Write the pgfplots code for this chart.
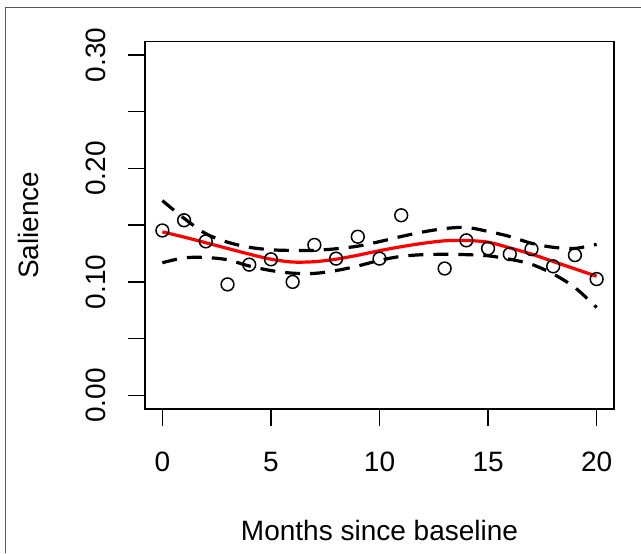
\documentclass[border=0pt]{standalone}
\usepackage{fontspec}
\setmainfont{Liberation Sans}
\usepackage{pgfplots}
\pgfplotsset{compat=1.18}

% observed values
\pgfplotstableread{
x y
0 0.1453
1 0.1543
2 0.1357
3 0.0978
4 0.1152
5 0.1199
6 0.1000
7 0.1326
8 0.1205
9 0.1398
10 0.1205
11 0.1587
13 0.1118
14 0.1366
15 0.1295
16 0.1245
17 0.1289
18 0.1137
19 0.1236
20 0.1025
}\obs

% smooth fit with upper and lower band
\pgfplotstableread{
x fit upper lower
0 0.1441 0.1716 0.1169
1 0.1395 0.1560 0.1212
2 0.1345 0.1425 0.1215
3 0.1295 0.1350 0.1195
4 0.1245 0.1305 0.1140
5 0.1200 0.1283 0.1100
6 0.1175 0.1277 0.1077
7 0.1178 0.1278 0.1075
8 0.1200 0.1292 0.1100
9 0.1235 0.1315 0.1140
10 0.1275 0.1355 0.1190
11 0.1310 0.1400 0.1225
12 0.1340 0.1440 0.1240
13 0.1362 0.1470 0.1243
14 0.1365 0.1480 0.1240
15 0.1350 0.1445 0.1230
16 0.1300 0.1400 0.1200
17 0.1245 0.1340 0.1155
18 0.1180 0.1305 0.1070
19 0.1115 0.1295 0.0950
20 0.1050 0.1331 0.0775
}\fit

\newcommand{\lbl}{\fontsize{14}{16}\selectfont}

\begin{document}
\begin{tikzpicture}
\path[use as bounding box] (0,0) rectangle (320.5pt,276.5pt);
\draw[gray!70!black, line width=0.5pt] (2.85pt,0) -- (2.85pt,272.85pt) -- (320.5pt,272.85pt);
\begin{axis}[
  at={(72.5pt,72pt)}, anchor=south west,
  scale only axis, width=234.5pt, height=183.85pt,
  xmin=-0.8, xmax=20.8, ymin=-0.012, ymax=0.312,
  axis line style={line width=0.7pt},
  xtick={0,5,10,15,20}, xticklabels={0,5,10,15,20},
  ytick={0,0.05,0.1,0.15,0.2,0.25,0.3},
  yticklabels={0.00,,0.10,,0.20,,0.30},
  tick align=outside, major tick length=8.5pt,
  tick style={black, line width=0.7pt},
  xtick pos=bottom, ytick pos=left,
  tick label style={font=\lbl},
  xticklabel style={anchor=base, yshift=-22.5pt},
  yticklabel style={rotate=90, anchor=base, yshift=11pt},
  xlabel={Months since baseline}, ylabel={Salience},
  every axis x label/.style={at={([yshift=-65.5pt]axis description cs:0.5,0)}, anchor=base, font=\lbl},
  every axis y label/.style={at={([xshift=-53pt]axis description cs:0,0.5)}, rotate=90, anchor=base, font=\lbl},
]
\addplot[black, dash pattern=on 7.5pt off 5pt, line width=1.6pt, smooth] table[x=x, y=upper] {\fit};
\addplot[black, dash pattern=on 7.5pt off 5pt, line width=1.6pt, smooth] table[x=x, y=lower] {\fit};
\addplot[red, line width=1.6pt, smooth] table[x=x, y=fit] {\fit};
\addplot[only marks, mark=o, mark size=3.2pt, mark options={black, line width=0.75pt}] table[x=x, y=y] {\obs};
\end{axis}
\end{tikzpicture}
\end{document}
